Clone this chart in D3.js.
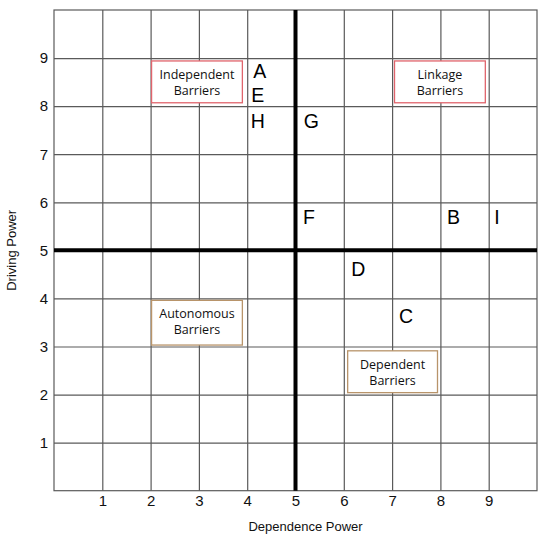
<!DOCTYPE html>
<html>
<head>
<meta charset="utf-8">
<script src="https://cdn.jsdelivr.net/npm/d3@7"></script>
<style>
  body { margin: 0; background: #fff; }
  .axis .domain { display: none; }
  .axis line { stroke: #5a5a5a; stroke-width: 1.2; }
</style>
</head>
<body>
<div class="chart"></div>
<script>
// data
var ticks = [1, 2, 3, 4, 5, 6, 7, 8, 9]
var barrierNames = ['A', 'E', 'H', 'G', 'F', 'B', 'I', 'D', 'C']
var dependence = [4.26, 4.22, 4.22, 5.33, 5.28, 8.27, 9.17, 6.30, 7.29]
var driving = [8.74, 8.24, 7.69, 7.69, 5.70, 5.70, 5.70, 4.62, 3.64]
var clusterNames = [['Independent', 'Barriers'], ['Linkage', 'Barriers'], ['Autonomous', 'Barriers'], ['Dependent', 'Barriers']]
var clusterX = [[2.02, 3.9], [7.05, 8.93], [2.02, 3.9], [6.08, 7.94]]
var clusterY = [[8.94, 8.07], [8.94, 8.07], [3.96, 3.03], [2.91, 2.04]]
var clusterColor = ['#e0646c', '#e0646c', '#b8946a', '#b8946a']

var margin = { top: 10, right: 13, bottom: 51.3, left: 54 }
var width = 550 - margin.left - margin.right
var height = 542 - margin.top - margin.bottom

var svg = d3.select('.chart')
  .append('svg')
    .attr('width', 550)
    .attr('height', 542)
  .append('g')
    .attr('transform', `translate(${margin.left}, ${margin.top})`)

var xScale = d3.scaleLinear().domain([0, 10]).range([0, width])
var yScale = d3.scaleLinear().domain([0, 10]).range([height, 0])

svg.append('rect')
  .attr('width', width)
  .attr('height', height)
  .attr('fill', '#fff')
  .attr('stroke', '#5a5a5a')
  .attr('stroke-width', 1.2)

var xAxis = d3.axisBottom(xScale)
  .tickValues(ticks)
  .tickFormat(d3.format('d'))
  .tickSizeInner(-height)
  .tickSizeOuter(0)
  .tickPadding(5)

var yAxis = d3.axisLeft(yScale)
  .tickValues(ticks)
  .tickFormat(d3.format('d'))
  .tickSizeInner(-width)
  .tickSizeOuter(0)
  .tickPadding(6)

svg.append('g')
    .attr('class', 'axis')
    .attr('transform', `translate(0, ${height})`)
  .call(xAxis)

svg.append('g')
    .attr('class', 'axis')
  .call(yAxis)

// d3 puts font-size 10 on the axis group, so set it on the labels directly
svg.selectAll('.axis text')
  .attr('font-family', 'Arial, "Liberation Sans", sans-serif')
  .attr('font-size', 15)
  .attr('fill', '#111')

// the two thick dividing lines at 5
svg.append('line')
  .attr('x1', xScale(5)).attr('x2', xScale(5))
  .attr('y1', 0).attr('y2', height)
  .attr('stroke', '#000').attr('stroke-width', 4)

svg.append('line')
  .attr('x1', 0).attr('x2', width)
  .attr('y1', yScale(5)).attr('y2', yScale(5))
  .attr('stroke', '#000').attr('stroke-width', 4)

// cluster boxes
var boxes = svg.selectAll('.cluster')
  .data(clusterNames)
  .enter().append('g')
    .attr('class', 'cluster')

boxes.append('rect')
  .attr('x', (d, i) => xScale(clusterX[i][0]))
  .attr('y', (d, i) => yScale(clusterY[i][0]))
  .attr('width', (d, i) => xScale(clusterX[i][1]) - xScale(clusterX[i][0]))
  .attr('height', (d, i) => yScale(clusterY[i][1]) - yScale(clusterY[i][0]))
  .attr('fill', '#fff')
  .attr('stroke', (d, i) => clusterColor[i])
  .attr('stroke-width', 1.3)

boxes.selectAll('text')
  .data((d, i) => d.map((t, j) => ({ t: t, i: i, j: j })))
  .enter().append('text')
    .attr('x', d => (xScale(clusterX[d.i][0]) + xScale(clusterX[d.i][1])) / 2)
    .attr('y', d => yScale(clusterY[d.i][0]) + 18 + d.j * 16)
    .attr('text-anchor', 'middle')
    .attr('font-family', '"Open Sans", sans-serif')
    .attr('font-size', 12.5)
    .attr('fill', '#111')
    .text(d => d.t)

// barrier letters
svg.selectAll('.barrier')
  .data(barrierNames)
  .enter().append('text')
    .attr('class', 'barrier')
    .attr('x', (d, i) => xScale(dependence[i]))
    .attr('y', (d, i) => yScale(driving[i]))
    .attr('dy', '0.36em')
    .attr('text-anchor', 'middle')
    .attr('font-family', 'Arial, "Liberation Sans", sans-serif')
    .attr('font-size', 19.5)
    .attr('fill', '#000')
    .text(d => d)

// axis titles
svg.append('text')
  .attr('x', width / 2 + 10)
  .attr('y', height + 40)
  .attr('text-anchor', 'middle')
  .attr('font-family', 'Arial, "Liberation Sans", sans-serif')
  .attr('font-size', 13)
  .attr('fill', '#111')
  .text('Dependence Power')

svg.append('text')
  .attr('transform', `translate(${-38}, ${height / 2}) rotate(-90)`)
  .attr('text-anchor', 'middle')
  .attr('font-family', 'Arial, "Liberation Sans", sans-serif')
  .attr('font-size', 13)
  .attr('fill', '#111')
  .text('Driving Power')
</script>
</body>
</html>
